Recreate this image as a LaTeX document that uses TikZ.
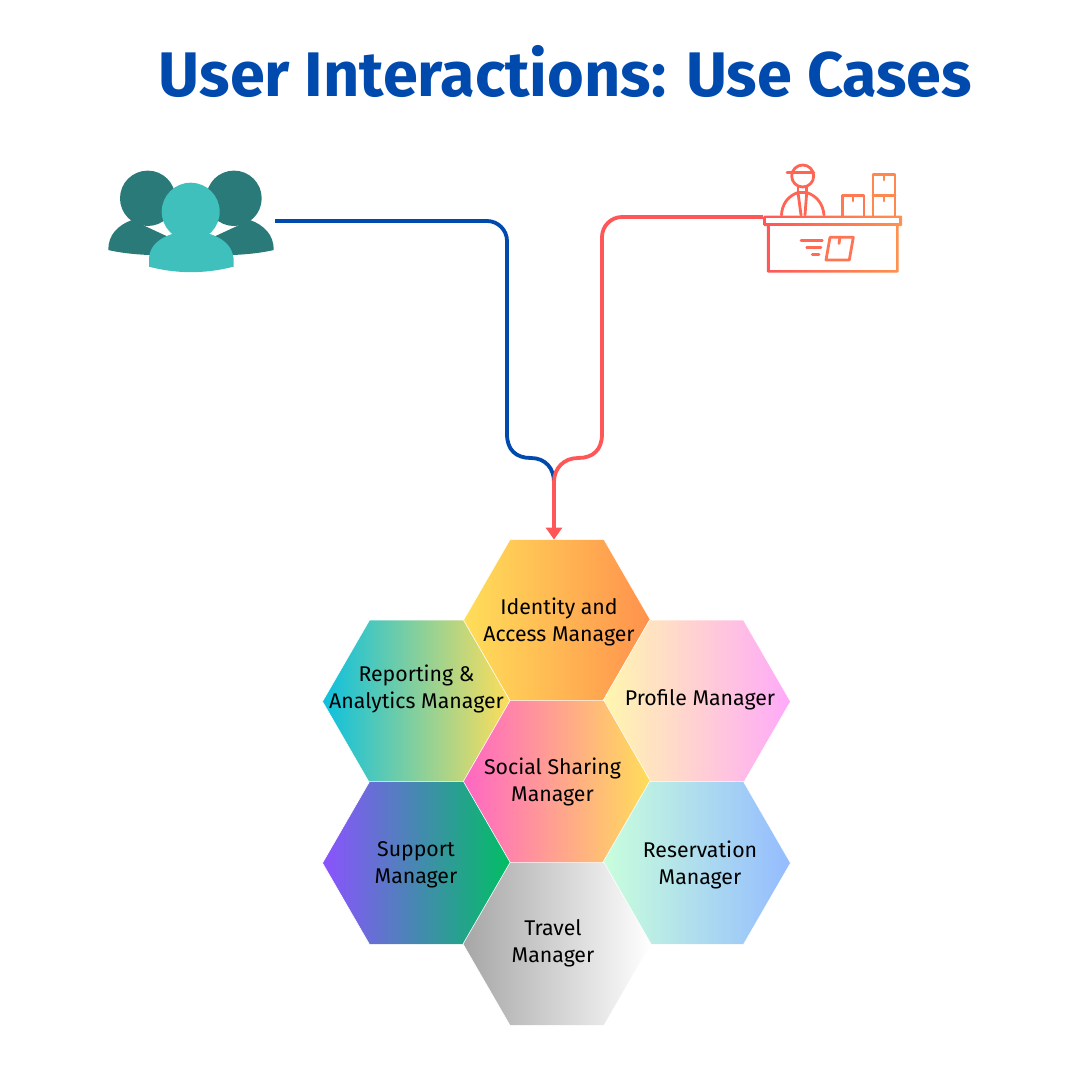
\documentclass[tikz,border=0pt]{standalone}
\usepackage{fontspec}
\setmainfont{Fira Sans}
\usetikzlibrary{arrows.meta,shapes.geometric}
\definecolor{linkblue}{HTML}{004AAD}
\definecolor{linkred}{HTML}{FF5757}
\definecolor{iconorange}{HTML}{FF914D}
\definecolor{backuser}{HTML}{297A78}
\definecolor{frontuser}{HTML}{3FC0BC}
\definecolor{sun}{HTML}{FFDE59}
\definecolor{cyan}{HTML}{0CC0DF}
\definecolor{cream}{HTML}{FFF7AD}
\definecolor{orchid}{HTML}{FFA9F9}
\definecolor{rose}{HTML}{FF66C4}
\definecolor{violet}{HTML}{8C52FF}
\definecolor{leaf}{HTML}{00BF63}
\definecolor{mint}{HTML}{C9FFDC}
\definecolor{sky}{HTML}{94BBFF}
\definecolor{ash}{HTML}{A6A6A6}
\tikzset{
    hexcell/.style n args={2}{regular polygon, regular polygon sides=6, minimum size=188pt,
        inner sep=0pt, outer sep=0pt, draw=white, line width=0.6pt, shading=axis,
        left color=#1, right color=#2},
    hexlabel/.style={align=center, font=\fontsize{21.3}{27}\selectfont, text=black, inner sep=0pt},
    link/.style={line width=3.8pt},
    ic/.style={draw=iconorange!#1!linkred, line width=2.8pt, line cap=round, line join=round},
}
\begin{document}
\begin{tikzpicture}[x=1pt, y=-1pt]
    \useasboundingbox (0,0) rectangle (1080,1080);

    \node[font=\fontsize{63}{70}\selectfont\bfseries, text=linkblue, inner sep=0pt] (title) at (565.5,71.5) {User Interactions: Use Cases};

    % hexagons
    \node[hexcell={sun}{iconorange}] (identity) at (557,621) {};
    \node[hexcell={cyan}{sun}] (reporting) at (416.5,701.5) {};
    \node[hexcell={cream}{orchid}] (profile) at (696.5,701.5) {};
    \node[hexcell={rose}{sun}] (social) at (557,782) {};
    \node[hexcell={violet}{leaf}] (support) at (416.5,863) {};
    \node[hexcell={mint}{sky}] (reservation) at (696.5,863) {};
    \node[hexcell={ash}{white}] (travel) at (557,944) {};

    \node[hexlabel] (identitytext) at (559,622) {Identity and\\Access Manager};
    \node[hexlabel] (reportingtext) at (416.5,689) {Reporting \&\\Analytics Manager};
    \node[hexlabel] (profiletext) at (700,700) {Profile Manager};
    \node[hexlabel] (socialtext) at (552.5,782) {Social Sharing\\Manager};
    \node[hexlabel] (supporttext) at (416,865) {Support\\Manager};
    \node[hexlabel] (reservationtext) at (700,865) {Reservation\\Manager};
    \node[hexlabel] (traveltext) at (553,943) {Travel\\Manager};

    % users
    \fill[backuser] (147.7,198.3) circle (27.7pt);
    \fill[backuser] (234,198.3) circle (27.7pt);
    \fill[backuser] (108.3,250) .. controls (108,235) and (118,225) .. (132,220) -- (175,240) -- (175,255)
        .. controls (150,256) and (125,254) .. (108.3,250) -- cycle;
    \fill[backuser] (273.7,250) .. controls (274,235) and (264,225) .. (250,220) -- (207,240) -- (207,255)
        .. controls (232,256) and (257,254) .. (273.7,250) -- cycle;
    \fill[frontuser] (190.7,211.7) circle (29pt);
    \fill[frontuser] (149,266.7) -- (149,258) .. controls (150,245) and (160,238) .. (172,234) -- (210,234)
        .. controls (222,238) and (232,245) .. (233.5,258) -- (233.5,266.7)
        .. controls (205,274) and (177,274) .. (149,266.7) -- cycle;

    % counter
    \draw[ic=25] (802.7,176) circle (11pt);
    \draw[ic=25] (787,172.7) -- (813.7,172.7);
    \draw[ic=25] (798,186.5) -- (798,192.5) -- (806.7,192.5) -- (806.7,186.5);
    \draw[ic=20] (781.5,215) .. controls (782,204) and (788,196) .. (798,192.5);
    \draw[ic=30] (824,215) .. controls (823,204) and (817,196) .. (806.7,192.5);
    \draw[ic=22] (798,192.5) -- (801,215);
    \draw[ic=28] (806.7,192.5) -- (805,215);
    \draw[ic=60] (842.5,216) -- (842.5,195.5) -- (864,195.5) -- (864,216);
    \draw[ic=60] (853,195.5) -- (853,201);
    \draw[ic=85] (873,216) -- (873,174.5) -- (895,174.5) -- (895,216);
    \draw[ic=85] (873,195.5) -- (895,195.5);
    \draw[ic=85] (884,174.5) -- (884,180) (884,195.5) -- (884,201);
    \path[left color=linkred, right color=iconorange, rounded corners=1pt] (763.5,215.5) rectangle (902,226);
    \fill[white] (766.4,218.4) rectangle (899.1,223.1);
    \path[left color=linkred, right color=iconorange, rounded corners=1pt] (766.8,223.5) rectangle (898.5,272.5);
    \fill[white] (769.7,226) rectangle (895.6,269.6);
    \draw[ic=30] (801,240.7) -- (822.3,240.7);
    \draw[ic=32] (806.7,247.3) -- (821,247.3);
    \draw[ic=35] (812.3,254.3) -- (819,254.3);
    \draw[ic=50] (830,237.3) -- (853.3,237.3) -- (849.3,260) -- (826,260) -- cycle;
    \draw[ic=50] (840,237.3) -- (839,243.5);

    % connectors
    \coordinate (userout) at (275,221);
    \coordinate (deskout) at (763,217);
    \coordinate (merge) at (554,482);
    \coordinate (tipbase) at (554,530);
    \draw[link, linkblue] (userout) -- (487,221) .. controls (498,221) and (507,230) .. (507,241)
        -- (507,434) .. controls (507,450) and (516,458) .. (531,458)
        .. controls (545,458) and (554,468) .. (merge) -- (tipbase);
    \draw[link, linkred, -{Triangle[length=12pt, width=16pt]}] (deskout) -- (622,217) .. controls (611,217) and (602,226) .. (602,237)
        -- (602,434) .. controls (602,450) and (593,458) .. (578,458)
        .. controls (564,458) and (554,468) .. (merge) -- (merge |- identity.north);
\end{tikzpicture}
\end{document}
